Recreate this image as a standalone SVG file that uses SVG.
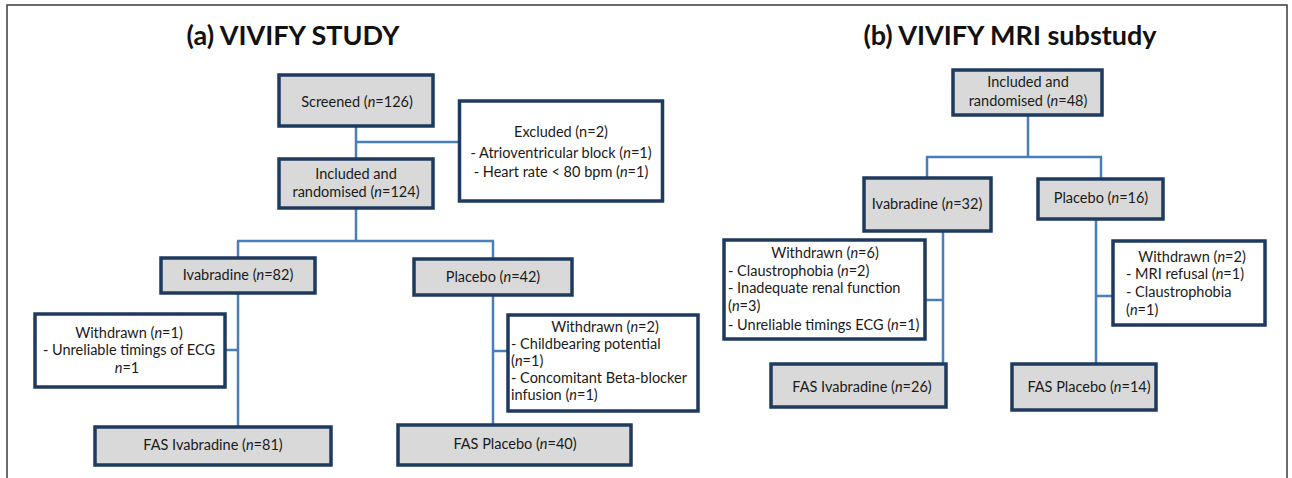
<svg xmlns="http://www.w3.org/2000/svg" width="1292" height="478" viewBox="0 0 1292 478">
<style>
.frame{fill:none;stroke:#3a3a3a;stroke-width:1.5}
.box{stroke:#1f3a5f;stroke-width:3.5}
.g{fill:#d9d9d9}
.w{fill:#ffffff}
.con{fill:none;stroke:#4a7ebb;stroke-width:2.5}
text{font-family:Lato,"Liberation Sans",sans-serif;font-size:14.5px;fill:#1a1a1a}
.c{text-anchor:middle}
.title{font-size:27px;font-weight:bold;fill:#111}
.i{font-style:italic}
</style>
<rect width="1292" height="478" fill="#ffffff"/>
<path class="frame" d="M7 478 V5 H1287 V478"/>
<text class="title c" x="293" y="45">(a) VIVIFY STUDY</text>
<text class="title c" x="1010" y="45">(b) VIVIFY MRI substudy</text>
<g id="connectors">
<path class="con" d="M356 126 V159 M356 142 H459 M356 208 V241 M237 241 H494 M238 241 V258 M493 241 V259 M238 293 V427 M225 350 H238 M493 295 V425 M493 351 H508"/>
<path class="con" d="M1028 115 V157 M926 157 H1102 M927 157 V178 M1101 157 V179 M943 231 V364 M925 300 H943 M1096 219 V364 M1096 296 H1113"/>
</g>
<g id="screened"><rect class="box g" x="279" y="75" width="154" height="51"/><text class="c" x="357" y="107">Screened (<tspan class="i">n</tspan>=126)</text></g>
<g id="included-a"><rect class="box g" x="279" y="159" width="154" height="49"/><text class="c" x="356" y="179">Included and</text><text class="c" x="356" y="197">randomised (<tspan class="i">n</tspan>=124)</text></g>
<g id="excluded"><rect class="box w" x="459.5" y="101" width="203" height="100"/><text class="c" x="561" y="137">Excluded (n=2)</text><text class="c" x="561" y="158">- Atrioventricular block (<tspan class="i">n</tspan>=1)</text><text class="c" x="561" y="177">- Heart rate &lt; 80 bpm (<tspan class="i">n</tspan>=1)</text></g>
<g id="ivabradine-a"><rect class="box g" x="161" y="258" width="154" height="35"/><text class="c" x="238" y="280">Ivabradine (<tspan class="i">n</tspan>=82)</text></g>
<g id="placebo-a"><rect class="box g" x="414" y="259" width="158" height="36"/><text class="c" x="493" y="282">Placebo (<tspan class="i">n</tspan>=42)</text></g>
<g id="withdrawn-a1"><rect class="box w" x="35" y="314" width="190" height="73"/><text class="c" x="129" y="338">Withdrawn (<tspan class="i">n</tspan>=1)</text><text class="c" x="129" y="355">- Unreliable timings of ECG</text><text class="c" x="127" y="373"><tspan class="i">n</tspan>=1</text></g>
<g id="withdrawn-a2"><rect class="box w" x="508" y="315" width="190" height="96"/><text class="c" x="605" y="332">Withdrawn (<tspan class="i">n</tspan>=2)</text><text x="511" y="349">- Childbearing potential</text><text x="511" y="366">(<tspan class="i">n</tspan>=1)</text><text x="511" y="383">- Concomitant Beta-blocker</text><text x="511" y="400">infusion (<tspan class="i">n</tspan>=1)</text></g>
<g id="fas-ivabradine-a"><rect class="box g" x="95" y="427" width="236" height="38"/><text class="c" x="213" y="450">FAS Ivabradine (<tspan class="i">n</tspan>=81)</text></g>
<g id="fas-placebo-a"><rect class="box g" x="398" y="425" width="233" height="40"/><text class="c" x="515" y="449">FAS Placebo (<tspan class="i">n</tspan>=40)</text></g>
<g id="included-b"><rect class="box g" x="953" y="70" width="149" height="45"/><text class="c" x="1028" y="87">Included and</text><text class="c" x="1028" y="106">randomised (<tspan class="i">n</tspan>=48)</text></g>
<g id="ivabradine-b"><rect class="box g" x="864" y="178" width="127" height="53"/><text class="c" x="927" y="209">Ivabradine (<tspan class="i">n</tspan>=32)</text></g>
<g id="placebo-b"><rect class="box g" x="1038" y="179" width="125" height="40"/><text class="c" x="1101" y="203">Placebo (<tspan class="i">n</tspan>=16)</text></g>
<g id="withdrawn-b1"><rect class="box w" x="724" y="240" width="201" height="99"/><text class="c" x="825" y="258">Withdrawn (<tspan class="i">n</tspan>=6)</text><text x="728" y="276">- Claustrophobia (<tspan class="i">n</tspan>=2)</text><text x="728" y="293">- Inadequate renal function</text><text x="728" y="311">(<tspan class="i">n</tspan>=3)</text><text x="728" y="330">- Unreliable timings ECG (<tspan class="i">n</tspan>=1)</text></g>
<g id="withdrawn-b2"><rect class="box w" x="1113" y="241" width="152" height="84"/><text class="c" x="1192" y="262">Withdrawn (<tspan class="i">n</tspan>=2)</text><text x="1126" y="279">- MRI refusal (<tspan class="i">n</tspan>=1)</text><text x="1126" y="297">- Claustrophobia</text><text x="1126" y="315">(<tspan class="i">n</tspan>=1)</text></g>
<g id="fas-ivabradine-b"><rect class="box g" x="771" y="364" width="175" height="43"/><text class="c" x="862" y="392">FAS Ivabradine (<tspan class="i">n</tspan>=26)</text></g>
<g id="fas-placebo-b"><rect class="box g" x="1012" y="364" width="144" height="46"/><text class="c" x="1089" y="392">FAS Placebo (<tspan class="i">n</tspan>=14)</text></g>
</svg>
